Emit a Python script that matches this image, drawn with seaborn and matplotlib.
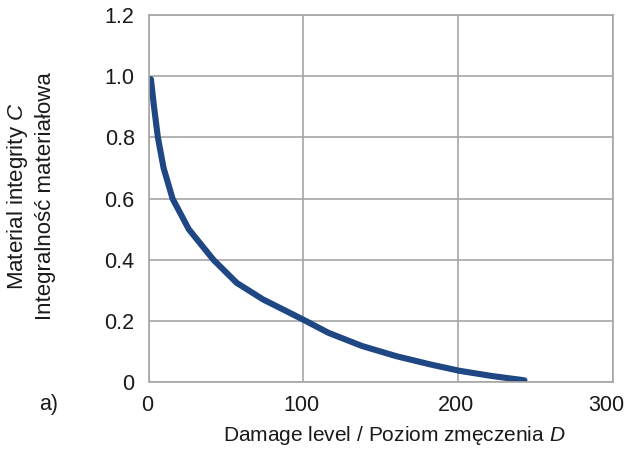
import numpy as np
import pandas as pd
import matplotlib
matplotlib.use("Agg")
import matplotlib.pyplot as plt
import matplotlib.transforms as mtransforms
import seaborn as sns

# values
damage = [1.5, 3.5, 6, 9.7, 15.5, 26, 42, 57, 74, 89, 100, 116.3, 138, 160, 182,
          201, 222, 243]
integrity = [0.99, 0.90, 0.80, 0.70, 0.60, 0.50, 0.40, 0.325, 0.271, 0.233, 0.205, 0.162,
             0.119, 0.086, 0.059, 0.038, 0.021, 0.007]
x_ticks = [0, 100, 200, 300]
y_ticks = [0, 0.2, 0.4, 0.6, 0.8, 1.0, 1.2]
y_tick_labels = ["0", "0.2", "0.4", "0.6", "0.8", "1.0", "1.2"]

sns.set_style("white")
plt.rcParams['font.family'] = ['Liberation Sans', 'DejaVu Sans']
plt.rcParams['mathtext.fontset'] = 'custom'
plt.rcParams['mathtext.rm'] = 'Liberation Sans'
plt.rcParams['mathtext.it'] = 'Liberation Sans:italic'

df = pd.DataFrame({"D": damage, "C": integrity})

fig = plt.figure(figsize=(6.27, 4.51), dpi=100)
ax = fig.add_axes([0.237, 0.152, 0.740, 0.815])

sns.lineplot(data=df, x="D", y="C", ax=ax, color="#1f4784", linewidth=4.4)
ax.lines[0].set_solid_capstyle("round")
ax.lines[0].set_solid_joinstyle("round")

ax.set_xlim(0, 300)
ax.set_ylim(0, 1.2)
ax.set_xticks(x_ticks)
ax.set_yticks(y_ticks)
ax.set_yticklabels(y_tick_labels)
ax.grid(True, color="#a6a6a6", linewidth=1.2)
ax.set_axisbelow(True)
for s in ax.spines.values():
    s.set_color("#a6a6a6")
    s.set_linewidth(1.2)
ax.tick_params(axis="both", length=0, labelsize=15.5, colors="#1a1a1a")
ax.tick_params(axis="x", pad=9)
ax.tick_params(axis="y", pad=10)

# nudge x tick labels a little left, the last one more so it stays inside
fig.canvas.draw()
for lab, shift in zip(ax.get_xticklabels(), [-1, -1.5, -1.5, -6]):
    lab.set_transform(lab.get_transform() +
                      mtransforms.ScaledTranslation(shift / 100, 0, fig.dpi_scale_trans))

ax.set_xlabel("Damage level / Poziom zmęczenia $\\mathit{D}$", fontsize=15,
              color="#1a1a1a", labelpad=6)
ax.xaxis.label.set_x(0.529)
ax.set_ylabel("")

fig.text(0.028, 0.565, "Material integrity $\\mathit{C}$", rotation=90,
         ha="center", va="center", fontsize=16, color="#1a1a1a")
fig.text(0.072, 0.565, "Integralność materiałowa", rotation=90,
         ha="center", va="center", fontsize=16, color="#1a1a1a")
fig.text(0.077, 0.102, "a)", ha="center", va="center", fontsize=15.5, color="#1a1a1a")

fig.savefig("out.png", dpi=100)
